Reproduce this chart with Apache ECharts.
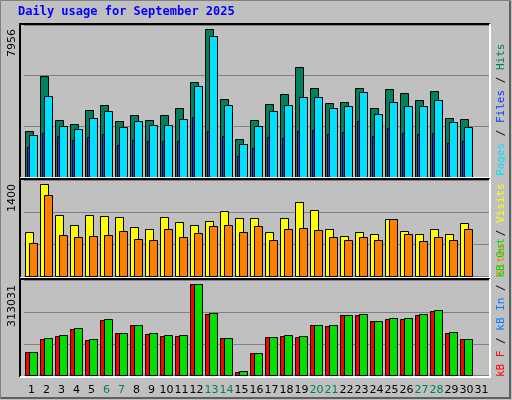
<!DOCTYPE html>
<html><head><meta charset="utf-8">
<script src="https://cdn.jsdelivr.net/npm/echarts@6/dist/echarts.min.js"></script>
<style>html,body{margin:0;padding:0;background:#c0c0c0}#c{width:512px;height:400px}</style>
</head><body><div id="c"></div>
<script>
const days = Array.from({length:31},(_,i)=>String(i+1));
const weekend = ['6','7','13','14','20','21','27','28'];
const hits  = [2502,5418,3060,2880,3600,3870,3006,3366,3060,3366,3744,5094,7956,4176,2070,3096,3960,4446,5904,4770,4014,4068,4770,3744,4716,4500,4122,4608,3204,3150,0];
const files = [2286,4338,2772,2610,3204,3546,2718,3042,2826,2826,3150,4878,7578,3906,1800,2772,3582,3906,4284,4284,3744,3852,4554,3420,4068,3852,3852,4122,2988,2718,0];
const pages = [1602,2394,2232,2016,2178,2340,1746,2016,1962,1962,1962,3258,2502,2232,1116,1584,2178,2124,2502,2556,2340,2448,3042,2232,2664,2394,2340,2394,1854,1962,0];
const visits= [669,1400,928,776,928,913,897,745,715,897,821,776,837,989,882,882,669,882,1126,1004,715,608,669,639,867,684,639,715,639,806,0];
const sites = [502,1232,624,593,608,624,684,563,548,715,593,654,761,776,669,761,548,715,730,700,593,548,593,548,867,639,532,593,548,715,0];
const kbOut = [78800,126800,137000,161000,123300,191900,143900,171300,143900,137000,137000,313031,212400,126800,13700,75400,130200,137000,133600,171300,171300,205600,209000,185000,195300,195300,209000,222700,147300,123300,0];
const kbF   = [78800,123400,133600,157600,119900,188500,143900,171300,140500,133600,133600,313031,209000,126800,10300,75400,130200,133600,130200,171300,168000,205600,205600,185000,191900,191900,205600,219300,143900,123300,0];
const kbIn  = Array(31).fill(0);
const maxLabels = ['7956','1400','313031'];

const panels = [{top:25,h:152,max:8190},{top:180,h:96.5,max:1466},{top:280.7,h:94.8,max:324450}];
const grids = panels.map(p=>({left:24,width:465,top:p.top,height:p.h}));
const xAxes = panels.map((p,i)=>({type:'category',gridIndex:i,data:days,
  axisLine:{show:false},axisTick:{show:false},
  axisLabel:{show:i===2,interval:0,margin:9,fontFamily:'DejaVu Sans',fontSize:11,
    color:v=>weekend.includes(v)?'#00805c':'#000',
    formatter:v=>v}}));
const yAxes = panels.map((p,i)=>({type:'value',gridIndex:i,min:0,max:p.max,interval:p.max/3,
  axisLabel:{show:false},axisLine:{show:false},axisTick:{show:false},
  splitLine:{show:true,lineStyle:{color:'#808080',width:1}}}));
function barSeries(data,g,off,w,color){
  return {type:'custom',xAxisIndex:g,yAxisIndex:g,data:data.map((v,i)=>[i,v]),
    renderItem:(params,api)=>{
      const v=api.value(1); if(!v) return null;
      const top=api.coord([api.value(0),v]); const bot=api.coord([api.value(0),0]);
      return {type:'rect',shape:{x:Math.round(top[0]+off)+0.5,y:Math.round(top[1])+0.5,width:w,height:Math.round(bot[1]-top[1])},
        style:{fill:color,stroke:'#000',lineWidth:1}};
    }};
}
const series=[
  barSeries(hits,0,-6.5,8,'#00805c'),
  barSeries(files,0,-2.5,8,'#00e0ff'),
  barSeries(pages,0,-4.5,2,'#0040ff'),
  barSeries(visits,1,-6.5,8,'#ffff00'),
  barSeries(sites,1,-2.5,8,'#ff8000'),
  barSeries(kbF,2,-6.5,8,'#ff0000'),
  barSeries(kbOut,2,-2.5,8,'#00e000'),
  barSeries(kbIn,2,-4.5,2,'#0080ff')
];
const frames=[[20,24,470,154],[20,179,470,99],[20,279,470,98]];
const graphic=[
  {type:'rect',shape:{x:0.5,y:0.5,width:510,height:398},style:{fill:'none',stroke:'#808080',lineWidth:1},z:-1},
  {type:'polyline',shape:{points:[[1,398],[510,398],[510,1]]},style:{stroke:'#606060',lineWidth:2,fill:'none'}},
  {type:'text',left:18,top:6,style:{text:'Daily usage for September 2025',font:'bold 12px "DejaVu Sans Mono"',fill:'#0000ff'}}
];
frames.forEach(f=>{
  graphic.push({type:'polyline',z:10,shape:{points:[[f[0],f[1]+f[3]],[f[0],f[1]],[f[0]+f[2],f[1]]]},style:{stroke:'#000',lineWidth:2,fill:'none'}});
  graphic.push({type:'polyline',z:10,shape:{points:[[f[0],f[1]+f[3]],[f[0]+f[2],f[1]+f[3]],[f[0]+f[2],f[1]]]},style:{stroke:'#fff',lineWidth:2,fill:'none'}});
});
const ly=[29,184,285];
maxLabels.forEach((t,i)=>graphic.push({type:'text',x:7,y:ly[i],rotation:Math.PI/2,
  style:{text:t,font:'11px "DejaVu Sans"',fill:'#000',align:'right',verticalAlign:'top'}}));
function rightLabel(parts,y){
  graphic.push({type:'text',x:496,y:y,rotation:Math.PI/2,
    style:{text:parts.map((p,i)=>'{s'+i+'|'+p[0]+'}').join(''),
      rich:Object.fromEntries(parts.map((p,i)=>['s'+i,{fill:p[1],font:'11px "DejaVu Sans Mono"'}])),
      align:'left',verticalAlign:'top'}});
}
rightLabel([['Pages','#00e0ff'],[' / ','#000'],['Files','#0040ff'],[' / ','#000'],['Hits','#00805c']],176);
rightLabel([['Sites','#ff8000'],[' / ','#000'],['Visits','#ffff00']],276);
rightLabel([['kB F','#ff0000'],[' / ','#000'],['kB In','#0080ff'],[' / ','#000'],['kB Out','#00e000']],377);

const chart=echarts.init(document.getElementById('c'));
chart.setOption({backgroundColor:'#c0c0c0',animation:false,grid:grids,xAxis:xAxes,yAxis:yAxes,series,graphic});
</script></body></html>
